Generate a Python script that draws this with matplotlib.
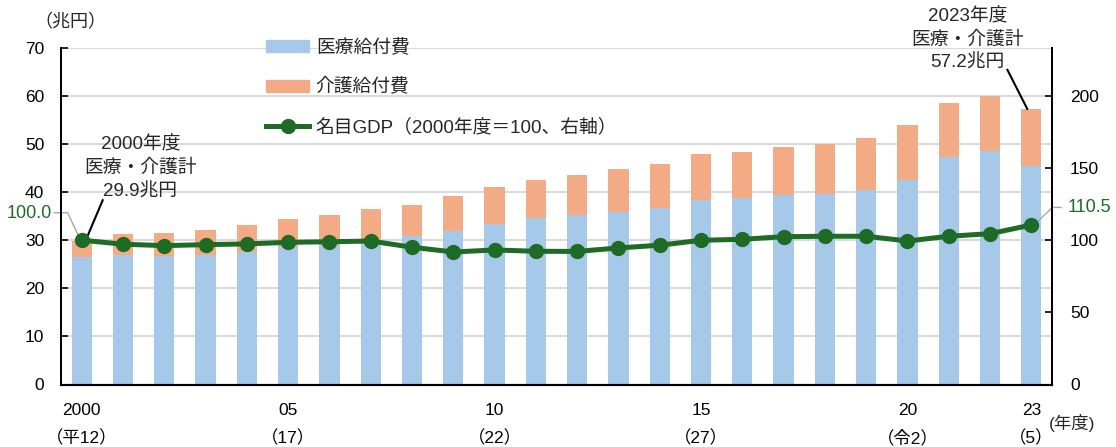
import matplotlib
matplotlib.use("Agg")
import matplotlib.pyplot as plt
from matplotlib.patches import Patch
from matplotlib.lines import Line2D
import numpy as np

plt.rcParams['font.family'] = ['Liberation Sans', 'Noto Sans CJK JP']

# data
years = list(range(2000, 2024))
medical = [26.5, 27.0, 26.7, 27.0, 27.6, 28.6, 28.9, 29.2, 30.8, 31.9, 33.4, 34.6,
           35.2, 35.9, 36.7, 38.4, 38.7, 39.3, 39.6, 40.5, 42.5, 47.2, 48.6, 45.5]
care = [3.4, 4.2, 4.7, 5.2, 5.5, 5.8, 6.3, 7.2, 6.6, 7.2, 7.6, 7.9,
        8.4, 8.8, 9.1, 9.5, 9.7, 10.1, 10.4, 10.7, 11.4, 11.3, 11.3, 11.7]
gdp = [100.0, 97.2, 96.2, 96.9, 97.4, 98.5, 98.9, 99.4, 95.1, 91.8, 93.2, 92.3,
       92.2, 94.6, 96.5, 99.9, 100.6, 102.4, 102.7, 102.7, 99.4, 102.7, 104.5, 110.5]
tick_pos = [0, 5, 10, 15, 20, 23]
tick_labels = ["2000\n（平12）", "05\n（17）", "10\n（22）", "15\n（27）", "20\n（令2）", "23\n（5）"]

blue = "#A6C9EA"
orange = "#F2AB85"
green = "#1E6B25"
txt = "#262626"

fig = plt.figure(figsize=(11.16, 4.47), dpi=100)
ax = fig.add_axes([61/1116, 1 - 384.5/447, 991/1116, 336.8/447])
ax2 = ax.twinx()

x = np.arange(len(years))
ax.bar(x, medical, width=0.49, color=blue, zorder=2)
ax.bar(x, care, bottom=medical, width=0.49, color=orange, zorder=2)

ax2.plot(x, gdp, color=green, lw=3.6, marker="o", ms=10, zorder=3)

ax.set_xlim(-0.5, 23.5)
ax.set_ylim(0, 70)
ax2.set_ylim(0, 70 * 10 / 3)
ax.set_yticks(range(0, 71, 10))
ax2.set_yticks([0, 50, 100, 150, 200])
ax.yaxis.grid(True, color="#D9D9D9", lw=1.4, zorder=0)
ax.set_axisbelow(True)

for a in (ax, ax2):
    a.spines["top"].set_visible(False)
    a.spines["left"].set_linewidth(1.3)
    a.spines["right"].set_linewidth(1.3)
    a.spines["bottom"].set_linewidth(1.5)
ax.tick_params(axis="y", direction="in", length=5, width=1.2, pad=12, labelsize=12.5)
ax2.tick_params(axis="y", direction="in", length=5, width=1.2, pad=13, labelsize=12.5)
ax.set_xticks(tick_pos)
ax.set_xticklabels(tick_labels, fontsize=12.5, linespacing=1.9)
ax.tick_params(axis="x", length=0, pad=13)

fig.text(34/1116, 1 - 23/447, "（兆円）", fontsize=13, color=txt, va="center", ha="left")
fig.text(1049/1116, 1 - 423/447, "(年度)", fontsize=12.5, color=txt, va="center", ha="left")

# legend
handles = [Patch(color=blue), Patch(color=orange),
           Line2D([], [], color=green, lw=3.6, marker="o", ms=10)]
labels = ["医療給付費", "介護給付費", "名目GDP（2000年度＝100、右軸）"]
leg = ax.legend(handles, labels, loc="upper left", bbox_to_anchor=(0.207, 1.025),
                frameon=False, fontsize=13.5, handlelength=2.3, handleheight=0.6,
                labelspacing=1.15, handletextpad=0.35, borderpad=0, borderaxespad=0)
for t in leg.get_texts():
    t.set_color(txt)

# annotations, one line each
for yy, s in zip([49.8, 45.0, 40.0], ["2000年度", "医療・介護計", "29.9兆円"]):
    ax.text(1.42, yy, s, fontsize=13.5, color=txt, ha="center", va="center")
ax.plot([0.15, 0.51], [31.0, 38.3], color="black", lw=1.5, zorder=4)

for yy, s in zip([76.4, 71.6, 66.8], ["2023年度", "医療・介護計", "57.2兆円"]):
    ax.text(21.45, yy, s, fontsize=13.5, color=txt, ha="center", va="center", clip_on=False)
ax.plot([22.42, 22.9], [65.4, 57.3], color="black", lw=1.5, clip_on=False, zorder=4)

ax.text(-0.72, 35.5, "100.0", fontsize=13, color=green, ha="right", va="center", clip_on=False)
ax.plot([-0.66, -0.34, -0.06], [35.7, 35.7, 30.6], color="#A6A6A6", lw=1, clip_on=False)
ax.text(23.87, 36.8, "110.5", fontsize=13, color=green, ha="left", va="center", clip_on=False)
ax.plot([23.03, 23.51, 23.72], [32.9, 36.8, 36.8], color="#A6A6A6", lw=1, clip_on=False, zorder=5)

fig.savefig("out.png", dpi=100)
